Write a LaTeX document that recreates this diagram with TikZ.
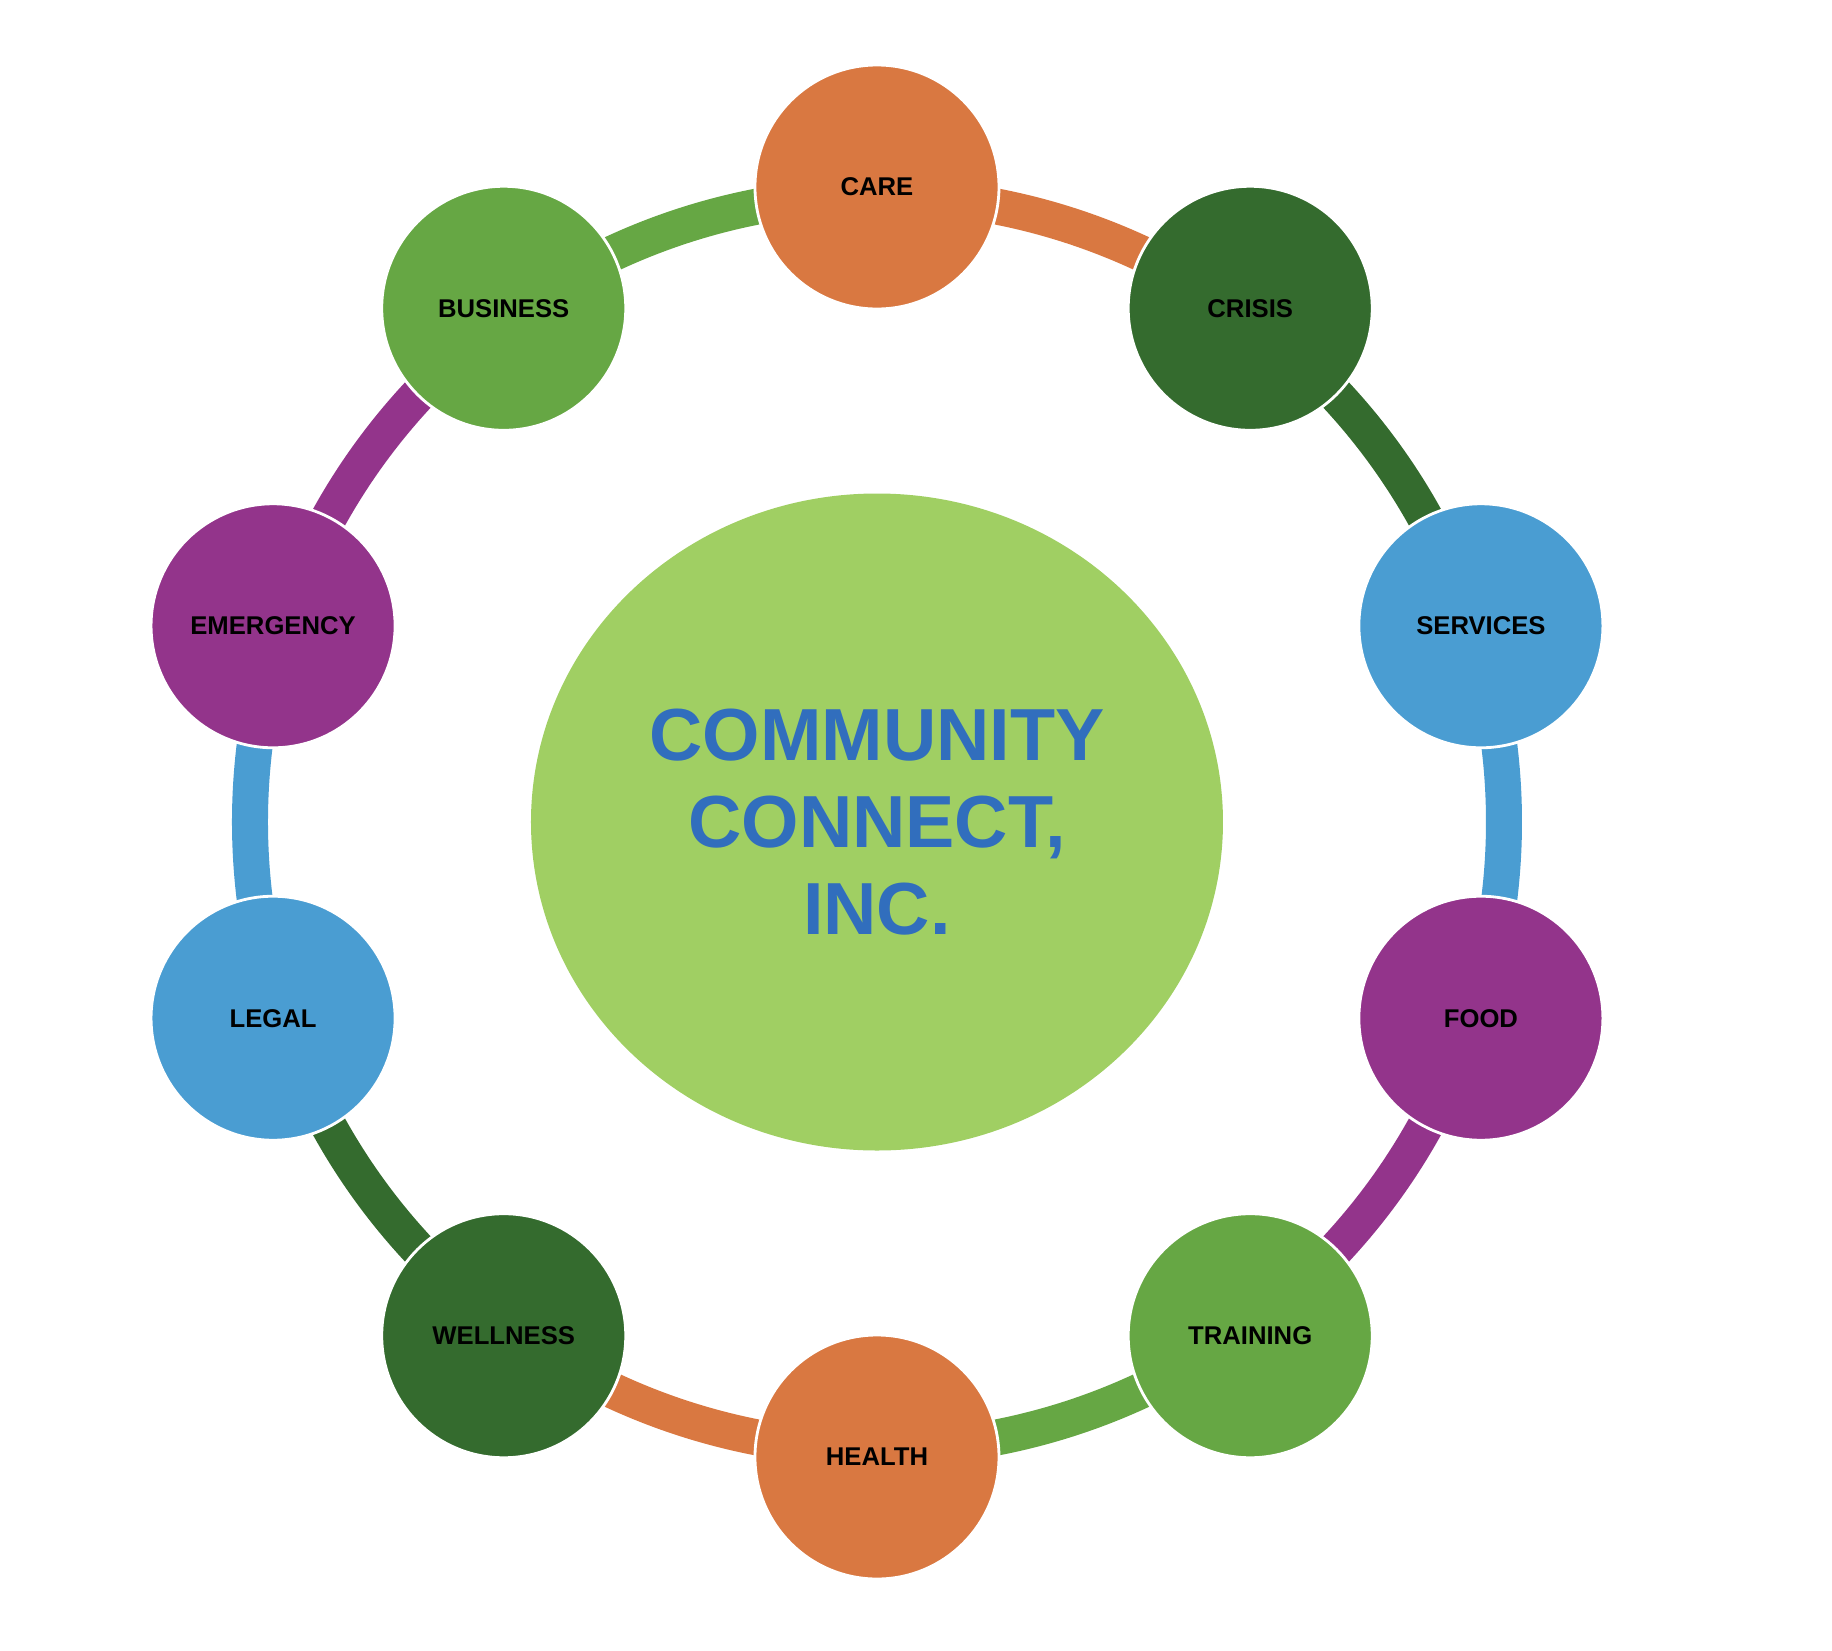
\documentclass[tikz,border=0pt]{standalone}
\usepackage{fontspec}
\setmainfont{Liberation Sans}
\usetikzlibrary{shapes.geometric}

\definecolor{ccOrange}{HTML}{D97841}
\definecolor{ccDarkGreen}{HTML}{346B2E}
\definecolor{ccGreen}{HTML}{66A744}
\definecolor{ccBlue}{HTML}{4A9DD2}
\definecolor{ccPurple}{HTML}{93348B}
\definecolor{ccLime}{HTML}{A0CF63}
\definecolor{ccText}{HTML}{316EBD}

\begin{document}
\begin{tikzpicture}[
    ringnode/.style={circle, draw=white, line width=0.8pt, minimum size=2.44cm,
        inner sep=0pt, text=black, font=\bfseries\fontsize{7.3}{8}\selectfont},
    ringarc/.style={line width=0.36cm, line cap=butt}
]
    \useasboundingbox (-8.77,-8.28) rectangle (9.55,8.22);

    % Arc end points (ring of connectors)
    \coordinate (careArc) at (90:6.27);
    \coordinate (crisisArc) at (54:6.27);
    \coordinate (servicesArc) at (18:6.27);
    \coordinate (foodArc) at (-18:6.27);
    \coordinate (trainingArc) at (-54:6.27);
    \coordinate (healthArc) at (-90:6.27);
    \coordinate (wellnessArc) at (-126:6.27);
    \coordinate (legalArc) at (-162:6.27);
    \coordinate (emergencyArc) at (162:6.27);
    \coordinate (businessArc) at (126:6.27);

    % Connectors, each in the colour of the circle it leaves
    \draw[ringarc, ccOrange] (careArc) arc[start angle=90, end angle=54, radius=6.27];
    \draw[ringarc, ccDarkGreen] (crisisArc) arc[start angle=54, end angle=18, radius=6.27];
    \draw[ringarc, ccBlue] (servicesArc) arc[start angle=18, end angle=-18, radius=6.27];
    \draw[ringarc, ccPurple] (foodArc) arc[start angle=-18, end angle=-54, radius=6.27];
    \draw[ringarc, ccGreen] (trainingArc) arc[start angle=-54, end angle=-90, radius=6.27];
    \draw[ringarc, ccOrange] (healthArc) arc[start angle=-90, end angle=-126, radius=6.27];
    \draw[ringarc, ccDarkGreen] (wellnessArc) arc[start angle=-126, end angle=-162, radius=6.27];
    \draw[ringarc, ccBlue] (legalArc) arc[start angle=-162, end angle=-198, radius=6.27];
    \draw[ringarc, ccPurple] (emergencyArc) arc[start angle=162, end angle=126, radius=6.27];
    \draw[ringarc, ccGreen] (businessArc) arc[start angle=126, end angle=90, radius=6.27];

    % Outer circles
    \node[ringnode, fill=ccOrange] (care) at (90:6.35) {CARE};
    \node[ringnode, fill=ccDarkGreen] (crisis) at (54:6.35) {CRISIS};
    \node[ringnode, fill=ccBlue] (services) at (18:6.35) {SERVICES};
    \node[ringnode, fill=ccPurple] (food) at (-18:6.35) {FOOD};
    \node[ringnode, fill=ccGreen] (training) at (-54:6.35) {TRAINING};
    \node[ringnode, fill=ccOrange] (health) at (-90:6.35) {HEALTH};
    \node[ringnode, fill=ccDarkGreen] (wellness) at (-126:6.35) {WELLNESS};
    \node[ringnode, fill=ccBlue] (legal) at (-162:6.35) {LEGAL};
    \node[ringnode, fill=ccPurple] (emergency) at (162:6.35) {EMERGENCY};
    \node[ringnode, fill=ccGreen] (business) at (126:6.35) {BUSINESS};

    % Centre
    \node[ellipse, fill=ccLime, minimum width=6.92cm, minimum height=6.57cm,
        inner sep=0pt, align=center, text=ccText,
        font=\bfseries\fontsize{21}{24.7}\selectfont] (hub) at (0,0)
        {COMMUNITY\\CONNECT,\\INC.};
\end{tikzpicture}
\end{document}
